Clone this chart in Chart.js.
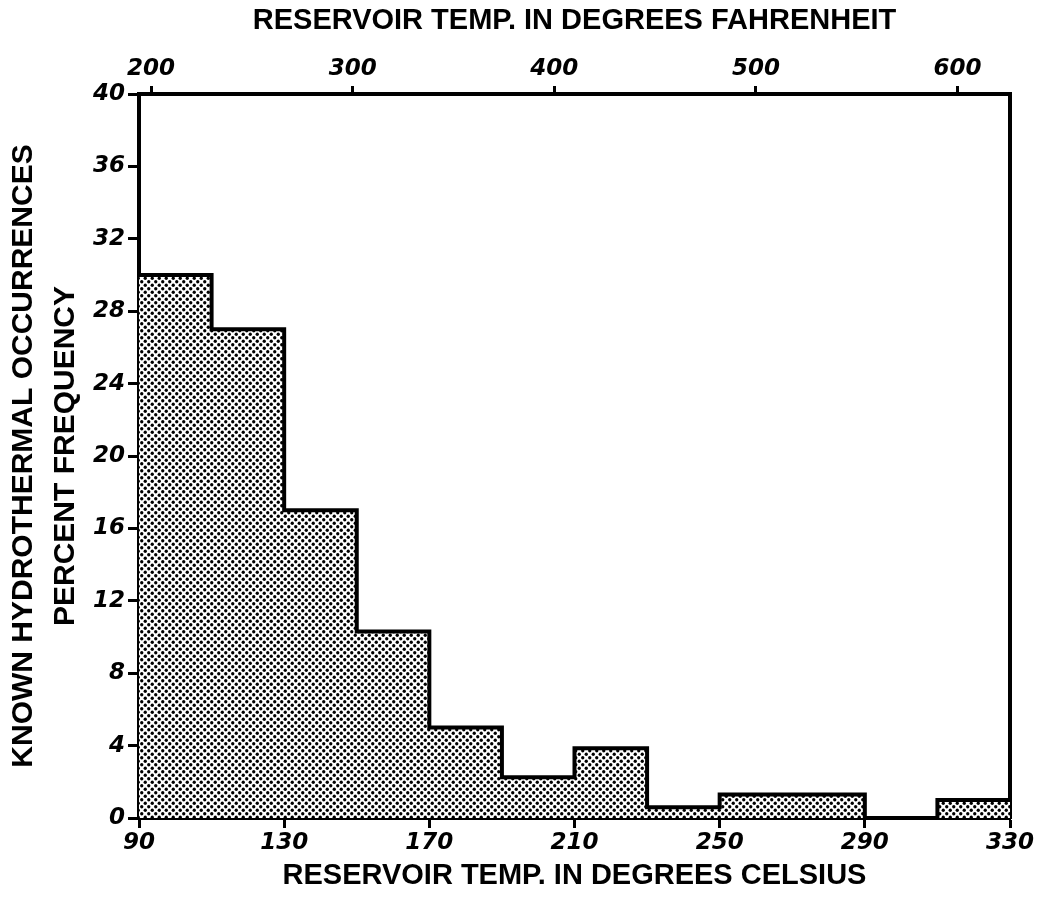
<!DOCTYPE html>
<html>
<head>
<meta charset="utf-8">
<script src="https://cdn.jsdelivr.net/npm/chart.js@4.4.1/dist/chart.umd.min.js"></script>
<style>
    html, body { margin: 0; padding: 0; background: #ffffff; }
    #wrap { width: 1041px; height: 906px; }
</style>
</head>
<body>
<div id="wrap"><canvas id="histogram" width="1041" height="906"></canvas></div>
<script>
// === Data ===
const BIN_EDGES_C = [90, 110, 130, 150, 170, 190, 210, 230, 250, 270, 290, 310, 330];
const PERCENT_FREQ = [30, 27, 17, 10.3, 5, 2.25, 3.85, 0.6, 1.3, 1.3, 0, 1.0];
const CELSIUS_TICKS = [90, 130, 170, 210, 250, 290, 330];
const FAHRENHEIT_TICKS = [200, 300, 400, 500, 600];
const PERCENT_TICKS = [0, 4, 8, 12, 16, 20, 24, 28, 32, 36, 40];

const TITLE_TOP = 'RESERVOIR TEMP. IN DEGREES FAHRENHEIT';
const TITLE_BOTTOM = 'RESERVOIR TEMP. IN DEGREES CELSIUS';
const TITLE_LEFT = ['KNOWN HYDROTHERMAL OCCURRENCES', 'PERCENT FREQUENCY'];

// === Utility Functions ===
function celsiusToFahrenheit(c) {
    return c * 9 / 5 + 32;
}

function makeDotPattern(ctx) {
    const tile = document.createElement('canvas');
    tile.width = 7;
    tile.height = 7;
    const t = tile.getContext('2d');
    t.fillStyle = '#ffffff';
    t.fillRect(0, 0, 7, 7);
    t.fillStyle = '#000000';
    [[1.75, 1.75], [5.25, 5.25]].forEach(([x, y]) => {
        t.beginPath();
        t.arc(x, y, 1.65, 0, Math.PI * 2);
        t.fill();
    });
    return ctx.createPattern(tile, 'repeat');
}

function fixedTicks(values) {
    return scale => { scale.ticks = values.map(v => ({ value: v })); };
}

// === Chart ===
const canvas = document.getElementById('histogram');
const ctx = canvas.getContext('2d');

// each bin holds its value until the next edge; the last edge repeats the last value
const steps = BIN_EDGES_C.map((edge, i) => ({
    x: edge,
    y: PERCENT_FREQ[Math.min(i, PERCENT_FREQ.length - 1)]
}));

const tickFont = { family: 'DejaVu Sans', size: 23, style: 'italic', weight: 'bold' };
const titleFont = { family: 'Liberation Sans', size: 29, weight: 'bold' };
const black = '#000000';

new Chart(ctx, {
    type: 'line',
    data: {
        datasets: [{
            label: 'Percent frequency',
            data: steps,
            stepped: 'before',
            fill: 'origin',
            backgroundColor: makeDotPattern(ctx),
            borderColor: black,
            borderWidth: 4,
            borderJoinStyle: 'miter',
            pointRadius: 0,
            xAxisID: 'x',
            yAxisID: 'y'
        }]
    },
    options: {
        responsive: false,
        animation: false,
        layout: { padding: 0 },
        plugins: {
            legend: { display: false },
            tooltip: { enabled: false }
        },
        scales: {
            x: {
                type: 'linear',
                position: 'bottom',
                min: BIN_EDGES_C[0],
                max: BIN_EDGES_C[BIN_EDGES_C.length - 1],
                afterBuildTicks: fixedTicks(CELSIUS_TICKS),
                afterFit: s => { s.height = 88; },
                ticks: { font: tickFont, color: black, padding: 1, maxRotation: 0 },
                grid: { drawOnChartArea: false, tickLength: 10, tickWidth: 3, tickColor: black },
                border: { color: black, width: 4 },
                title: {
                    display: true,
                    text: TITLE_BOTTOM,
                    color: black,
                    font: titleFont,
                    padding: { top: 0, bottom: 13 }
                }
            },
            x2: {
                type: 'linear',
                position: 'top',
                min: celsiusToFahrenheit(BIN_EDGES_C[0]),
                max: celsiusToFahrenheit(BIN_EDGES_C[BIN_EDGES_C.length - 1]),
                afterBuildTicks: fixedTicks(FAHRENHEIT_TICKS),
                afterFit: s => { s.height = 94; },
                ticks: { font: tickFont, color: black, padding: 3, maxRotation: 0 },
                grid: { drawOnChartArea: false, tickLength: 8, tickWidth: 3, tickColor: black },
                border: { color: black, width: 4 },
                title: {
                    display: true,
                    text: TITLE_TOP,
                    color: black,
                    font: titleFont,
                    padding: { top: 4, bottom: 0 }
                }
            },
            y: {
                type: 'linear',
                position: 'left',
                min: 0,
                max: 40,
                afterBuildTicks: fixedTicks(PERCENT_TICKS),
                afterFit: s => { s.width = 139; },
                ticks: { font: tickFont, color: black, padding: 3 },
                grid: { drawOnChartArea: false, tickLength: 11, tickWidth: 3, tickColor: black },
                border: { color: black, width: 4 },
                title: {
                    display: true,
                    text: TITLE_LEFT,
                    color: black,
                    font: { family: 'Liberation Sans', size: 30, weight: 'bold', lineHeight: 1.4 },
                    padding: { top: 3, bottom: 0 }
                }
            },
            y2: {
                type: 'linear',
                position: 'right',
                min: 0,
                max: 40,
                afterFit: s => { s.width = 31; },
                ticks: { display: false },
                grid: { display: false },
                border: { color: black, width: 4 }
            }
        }
    }
});
</script>
</body>
</html>
